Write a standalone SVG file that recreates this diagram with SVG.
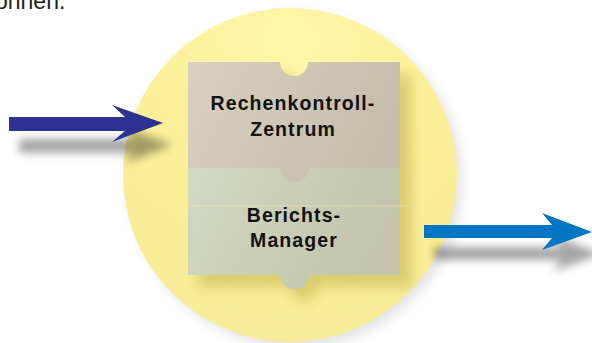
<svg xmlns="http://www.w3.org/2000/svg" width="592" height="343" viewBox="0 0 592 343">
  <defs>
    <style>
      .lbl { font-family: "Liberation Sans", Arial, sans-serif; font-weight: bold; font-size: 19.5px; letter-spacing: 1.1px; fill: #111; text-anchor: middle; }
      .top { font-family: "Liberation Sans", Arial, sans-serif; font-size: 23px; fill: #222; }
    </style>
    <filter id="blur6" x="-30%" y="-30%" width="160%" height="160%"><feGaussianBlur stdDeviation="6"/></filter>
    <filter id="blur4" x="-30%" y="-60%" width="160%" height="220%"><feGaussianBlur stdDeviation="4.5"/></filter>
    <radialGradient id="circ" cx="290" cy="40" r="320" gradientUnits="userSpaceOnUse">
      <stop offset="0" stop-color="#fff6a8"/>
      <stop offset="0.55" stop-color="#fbef98"/>
      <stop offset="1" stop-color="#f7ec98"/>
    </radialGradient>
    <linearGradient id="gTop" x1="0" y1="0" x2="1" y2="0.3">
      <stop offset="0" stop-color="#d8d1c1"/>
      <stop offset="1" stop-color="#c6bdab"/>
    </linearGradient>
    <linearGradient id="gBot" x1="0" y1="0" x2="1" y2="0.3">
      <stop offset="0" stop-color="#d3d9c3"/>
      <stop offset="1" stop-color="#c2c4ac"/>
    </linearGradient>
    <clipPath id="circClip"><circle cx="290" cy="175" r="167"/></clipPath>
  </defs>

  <text class="top" x="-5" y="8.5">ohnen.</text>

  <g id="background">
    <circle cx="296" cy="181" r="167" fill="#000" opacity="0.10" filter="url(#blur6)"/>
    <circle cx="290" cy="175" r="167" fill="url(#circ)"/>
    <g clip-path="url(#circClip)">
      <path d="M198,74 H290 a14,14 0 0 0 28,0 H412 V287 H318 a14,14 0 0 1 -28,0 H198 Z" fill="#b8a840" opacity="0.45" filter="url(#blur6)"/>
    </g>
  </g>

  <g id="connectors">
    <g id="arrow-in">
      <path d="M19,139 H135 L122,127 L173,145 L122,164 L135,153 H19 Z" fill="#000" opacity="0.35" filter="url(#blur4)"/>
      <path d="M9,117 H125 L112,105 L163,123 L112,142 L125,131 H9 Z" fill="#2e3192"/>
    </g>
    <g id="arrow-out">
      <path d="M434,247 H562 L552,235 L602,254 L552,272 L562,260 H434 Z" fill="#000" opacity="0.35" filter="url(#blur4)"/>
      <path d="M424,225 H552 L542,213 L592,232 L542,250 L552,238 H424 Z" fill="#0077c0"/>
    </g>
  </g>

  <g id="node-berichts">
    <path d="M188,168 H400 V275 H309 a14.5,14.5 0 0 1 -29,0 H188 Z" fill="url(#gBot)"/>
    <line x1="188" y1="206" x2="420" y2="206" stroke="#ece7b0" stroke-width="0.8" opacity="0.7"/>
    <text class="lbl" x="294" y="222">Berichts-</text>
    <text class="lbl" x="294" y="247">Manager</text>
  </g>

  <g id="node-rechen">
    <path d="M188,62 H280 a14,14 0 0 0 28,0 H400 V168 H309 a14.5,14.5 0 0 1 -29,0 H188 Z" fill="url(#gTop)"/>
    <text class="lbl" x="293" y="110">Rechenkontroll-</text>
    <text class="lbl" x="293" y="136">Zentrum</text>
  </g>
</svg>
